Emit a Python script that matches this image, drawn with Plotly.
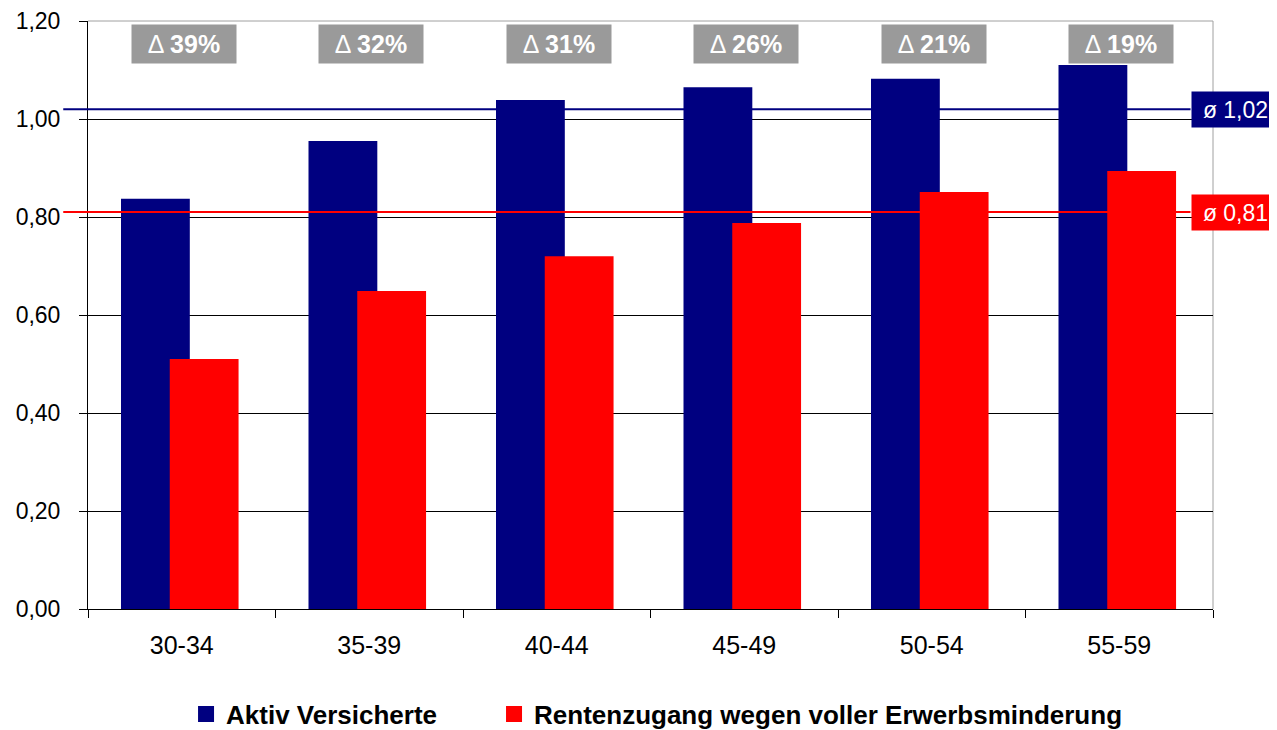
import plotly.graph_objects as go

categories = ["30-34", "35-39", "40-44", "45-49", "50-54", "55-59"]
aktiv = [0.837, 0.955, 1.039, 1.065, 1.082, 1.110]
rente = [0.510, 0.649, 0.720, 0.788, 0.851, 0.894]
deltas = ["39%", "32%", "31%", "26%", "21%", "19%"]
avg_aktiv = 1.02
avg_rente = 0.81
avg_labels = ["ø 1,02", "ø 0,81"]
series_names = ["Aktiv Versicherte", "Rentenzugang wegen voller Erwerbsminderung"]
yticks = [0, 0.2, 0.4, 0.6, 0.8, 1.0, 1.2]

BLUE = "#000080"
RED = "#FF0000"
GREY = "#9A9A9A"
FONT = "Liberation Sans, Arial, sans-serif"

fig = go.Figure()
fig.add_trace(go.Bar(x=categories, y=aktiv, name=series_names[0],
                     marker=dict(color=BLUE, line=dict(width=0)),
                     width=0.367, offset=-0.324, showlegend=False))
fig.add_trace(go.Bar(x=categories, y=rente, name=series_names[1],
                     marker=dict(color=RED, line=dict(width=0)),
                     width=0.367, offset=-0.064, showlegend=False))
# legend entries with larger square symbols, one legend each
for nm, col, lg in zip(series_names, [BLUE, RED], ["legend", "legend2"]):
    fig.add_trace(go.Scatter(x=[None], y=[None], mode="markers", name=nm,
                             marker=dict(symbol="square", size=16, color=col),
                             showlegend=True, legend=lg))

# average lines
for val, col in [(avg_aktiv, BLUE), (avg_rente, RED)]:
    fig.add_shape(type="line", xref="paper", yref="y", x0=-0.022, x1=0.98,
                  y0=val, y1=val, line=dict(color=col, width=2), layer="above")

# top border grey and right border
fig.add_shape(type="line", xref="paper", yref="paper", x0=0, x1=1, y0=1, y1=1,
              line=dict(color="#A0A0A0", width=1), layer="above")
fig.add_shape(type="line", xref="paper", yref="paper", x0=1, x1=1, y0=0, y1=1,
              line=dict(color="#A0A0A0", width=1), layer="below")

for lab, val, col in [(avg_labels[0], avg_aktiv, BLUE), (avg_labels[1], avg_rente, RED)]:
    fig.add_annotation(xref="paper", yref="y", x=0.98, y=val, xanchor="left",
                       yanchor="middle", text=lab, showarrow=False,
                       font=dict(family=FONT, size=23, color="white"),
                       bgcolor=col, borderpad=3, width=81, height=29, align="center")

for c, d in zip(categories, deltas):
    fig.add_annotation(x=c, y=1.153, xref="x", yref="y", text="Δ <b>" + d + "</b>",
                       showarrow=False, xshift=2,
                       font=dict(family=FONT, size=25, color="white"),
                       bgcolor=GREY, borderpad=3, width=98, height=32,
                       yanchor="middle", align="center")

legend_common = dict(orientation="h", xref="container", xanchor="left",
                     yref="container", yanchor="middle", y=0.022,
                     font=dict(family=FONT, size=26, color="black", weight="bold"),
                     itemwidth=30, bgcolor="rgba(0,0,0,0)")

fig.update_layout(
    width=1269, height=722,
    margin=dict(l=80, r=64, t=13, b=121, autoexpand=False),
    paper_bgcolor="white", plot_bgcolor="white",
    barmode="overlay",
    separators=",.",
    showlegend=True,
    legend=dict(x=0.1403, **legend_common),
    legend2=dict(x=0.383, **legend_common),
    font=dict(family=FONT, color="black"),
)
fig.update_yaxes(range=[0, 1.2], tickvals=yticks, tickformat=".2f",
                 showgrid=True, gridcolor="black", gridwidth=1,
                 showline=True, linecolor="black", linewidth=1,
                 ticks="outside", ticklen=8, tickcolor="black",
                 tickfont=dict(family=FONT, size=23, color="black"),
                 ticklabelstandoff=14,
                 zeroline=False, fixedrange=True, automargin=False)
fig.update_xaxes(showline=True, linecolor="black", linewidth=1,
                 ticks="outside", tickson="boundaries", ticklen=8, tickcolor="black",
                 tickfont=dict(family=FONT, size=25, color="black"),
                 ticklabelstandoff=14,
                 showgrid=False, fixedrange=True, automargin=False)

fig.write_html("out.html")
